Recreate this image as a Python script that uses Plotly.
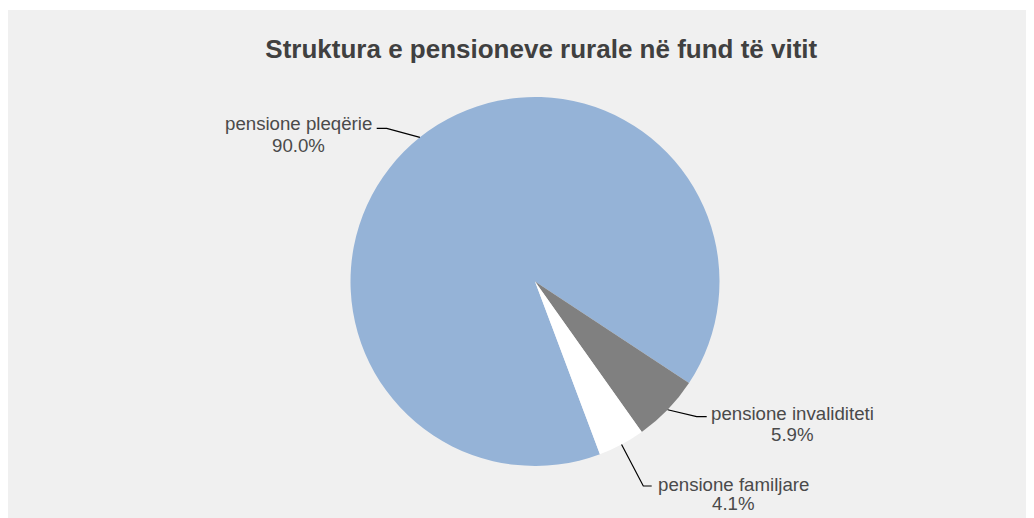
import math
import plotly.graph_objects as go

# ---- data ----
categories = ["pensione pleqërie", "pensione invaliditeti", "pensione familjare"]
shares = [90.0, 5.9, 4.1]
colors = ["#95B3D7", "#808080", "#FFFFFF"]
title_text = "Struktura e pensioneve rurale në fund të vitit"

# ---- layout geometry (screen pixels; page body adds an 8px offset) ----
W, H = 1034, 518
OFF = 8
CX, CY, R = 535.0, 281.5, 184.5
ROTATION = 159.4


def px(x):
    return (x - OFF) / W


def py(y):
    return 1 - (y - OFF) / H


# label layout: (elbow point, line end, text centre x, line1 centre y, line2 centre y)
label_layout = [
    dict(elbow=(386.7, 128.3), end=(376.7, 128.3), tx=298, y1=123, y2=145),
    dict(elbow=(696.7, 416.7), end=(706.7, 416.7), tx=792.5, y1=413, y2=434),
    dict(elbow=(643.3, 486.0), end=(651.7, 486.0), tx=733.5, y1=484, y2=503),
]

fig = go.Figure()
fig.add_trace(go.Pie(
    labels=categories,
    values=shares,
    marker=dict(colors=colors, line=dict(width=0)),
    sort=False,
    direction="clockwise",
    rotation=ROTATION,
    textinfo="none",
    hoverinfo="label+percent",
    showlegend=False,
    domain=dict(x=[px(CX - R), px(CX + R)], y=[py(CY + R), py(CY - R)]),
))

shapes = [dict(type="rect", xref="paper", yref="paper",
               x0=0, x1=1, y0=py(10), y1=1,
               fillcolor="#FFFFFF", line=dict(width=0), layer="below")]
annotations = []
total = sum(shares)
cum = 0.0
for name, v, lay in zip(categories, shares, label_layout):
    mid = math.radians(ROTATION + 360 * (cum + v / 2) / total)
    cum += v
    ex, ey = CX + R * math.sin(mid), CY - R * math.cos(mid)
    (bx, by), (qx, qy) = lay["elbow"], lay["end"]
    shapes.append(dict(type="path", xref="paper", yref="paper",
                       path=f"M {px(ex)},{py(ey)} L {px(bx)},{py(by)} L {px(qx)},{py(qy)}",
                       line=dict(color="#000000", width=1.2)))
    pct = f"{v / total * 100:.1f}%"
    for txt, yy in ((name, lay["y1"]), (pct, lay["y2"])):
        annotations.append(dict(text=txt, xref="paper", yref="paper",
                                x=px(lay["tx"]), y=py(yy), xanchor="center", yanchor="middle",
                                showarrow=False,
                                font=dict(family="Liberation Sans, Arial, sans-serif",
                                          size=18.67, color="#4A4A4A")))

fig.update_layout(
    width=W, height=H,
    margin=dict(l=0, r=0, t=0, b=0),
    paper_bgcolor="#F0F0F0",
    plot_bgcolor="#F0F0F0",
    title=dict(text=f"<b>{title_text}</b>", x=px(541.3), y=py(49), xanchor="center", yanchor="middle",
               font=dict(family="Liberation Sans, Arial, sans-serif", size=26, color="#404040")),
    shapes=shapes,
    annotations=annotations,
)

fig.write_html("out.html")
